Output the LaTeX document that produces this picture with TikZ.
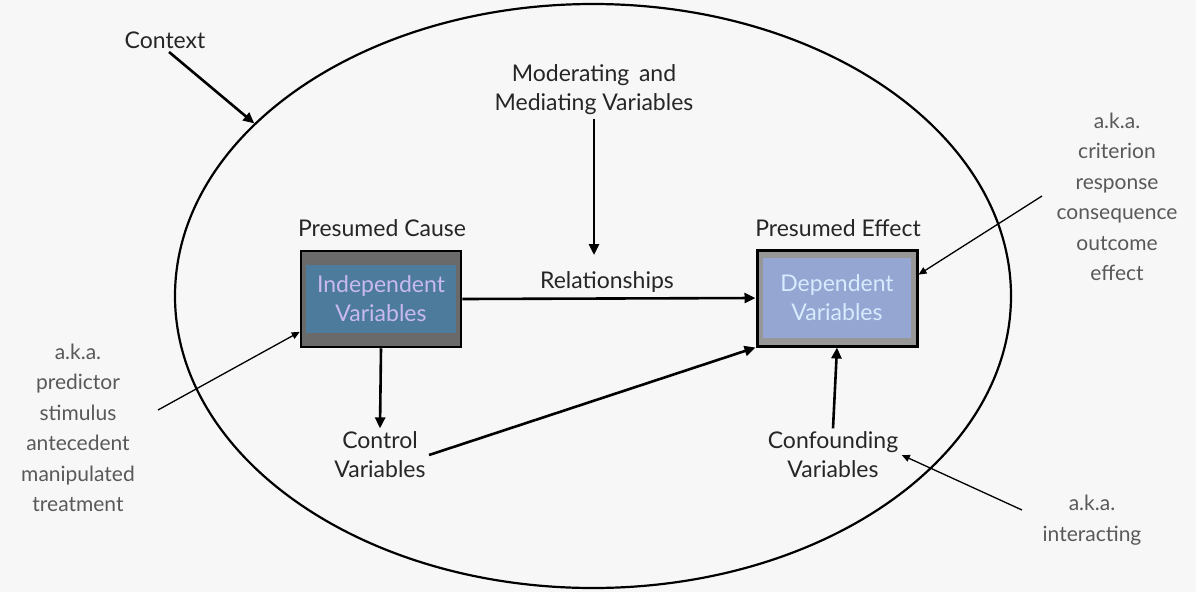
\documentclass[tikz,border=0pt]{standalone}
\usepackage{fontspec}
\setmainfont{Lato}
\usetikzlibrary{shapes.geometric,arrows.meta}
\definecolor{bgcol}{HTML}{F7F7F7}
\definecolor{framegray}{HTML}{6A6A6A}
\definecolor{causeblue}{HTML}{4D7B9B}
\definecolor{effectblue}{HTML}{95A6D2}
\definecolor{causetext}{HTML}{C9B9F2}
\definecolor{effecttext}{HTML}{D6ECFF}
\tikzset{
  lbl/.style={align=center, font=\fontsize{23}{29}\selectfont, text=black!85},
  aka/.style={align=center, font=\fontsize{21}{30.5}\selectfont, text=black!65},
  varbox/.style={draw=black, line width=2.5pt, fill=framegray, minimum width=160pt, minimum height=96pt},
  thick arrow/.style={-{Triangle[length=11pt,width=10pt]}, line width=2.6pt},
  thin arrow/.style={-{Triangle[length=8pt,width=7pt]}, line width=1.3pt}
}
\begin{document}
\begin{tikzpicture}[x=1pt, y=-1pt]
\fill[bgcol] (0,0) rectangle (1196,592);
\useasboundingbox (0,0) rectangle (1196,592);
\node[draw, ellipse, line width=2.2pt, minimum width=836pt, minimum height=584pt] (context) at (593,296) {};
\node[lbl] (contextlbl) at (165,40) {Context};
\node[lbl] (moderating) at (594,90) {Moderating\, and\\Mediating Variables};
\node[lbl] (causelbl) at (382,228) {Presumed Cause};
\node[lbl] (effectlbl) at (838,228) {Presumed Effect};
\node[varbox] (cause) at (381,299) {};
\node[fill=causeblue, minimum width=150pt, minimum height=68pt, lbl, text=causetext] (causein) at (381,299) {Independent\\Variables};
\node[varbox, line width=3pt, fill=framegray!70] (effect) at (837,298) {};
\node[fill=effectblue, minimum width=148pt, minimum height=80pt, lbl, text=effecttext] (effectin) at (837,298) {Dependent\\Variables};
\node[lbl] (rel) at (607,282) {Relationships};
\node[lbl] (control) at (380,455) {Control\\Variables};
\node[lbl] (confound) at (833,455) {Confounding\\Variables};
\node[aka] (akacause) at (78,428) {a.k.a.\\predictor\\stimulus\\antecedent\\manipulated\\treatment};
\node[aka] (akaeffect) at (1117,197) {a.k.a.\\criterion\\response\\consequence\\outcome\\effect};
\node[aka] (akaconf) at (1092,520) {a.k.a.\\interacting};
% free ends of the arrows
\coordinate (relin) at (594,255);
\coordinate (causetail) at (158,410);
\coordinate (effecttail) at (1042,196);
\coordinate (conftail) at (1022,510);
\draw[thick arrow] (contextlbl.south) ++(4,0) -- (context.153);
\draw[thick arrow] (moderating.south) -- (relin);
\draw[thick arrow] (cause.east) -- (effect.west);
\draw[thick arrow] (cause.south) -- (control.north);
\draw[thick arrow] (control.east) -- (effect.south west);
\draw[thick arrow] (confound.north) -- (effect.south);
\draw[thin arrow] (causetail) -- (cause.202);
\draw[thin arrow] (effecttail) -- (effect.16);
\draw[thin arrow] (conftail) -- (confound.east);
\end{tikzpicture}
\end{document}
